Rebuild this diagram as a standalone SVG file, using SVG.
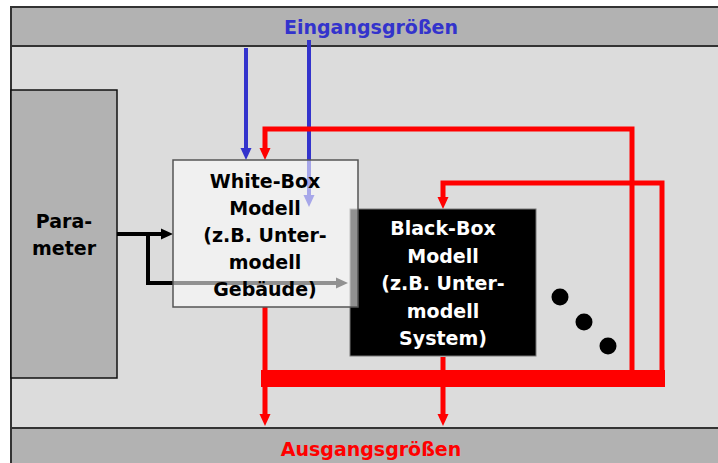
<svg xmlns="http://www.w3.org/2000/svg" width="718" height="463" viewBox="0 0 718 463">
<style>
.t{font-family:"DejaVu Sans","Liberation Sans",sans-serif;font-weight:bold;font-size:19px;text-anchor:middle}
.red{stroke:#ff0000;stroke-width:5;fill:none}
.blue{stroke:#3333cc;stroke-width:4;fill:none}
.blk{stroke:#000;stroke-width:4;fill:none}
</style>
<defs>
<marker id="ar" markerUnits="userSpaceOnUse" markerWidth="12" markerHeight="12" refX="0" refY="6" orient="auto"><path d="M0,0.5 L12,6 L0,11.5 z" fill="#ff0000"/></marker>
<marker id="ab" markerUnits="userSpaceOnUse" markerWidth="12" markerHeight="12" refX="0" refY="6" orient="auto"><path d="M0,0.5 L12,6 L0,11.5 z" fill="#3333cc"/></marker>
<marker id="ak" markerUnits="userSpaceOnUse" markerWidth="12" markerHeight="12" refX="0" refY="6" orient="auto"><path d="M0,0.5 L12,6 L0,11.5 z" fill="#000"/></marker>
</defs>
<rect width="718" height="463" fill="#fff"/>
<g id="frame">
<rect x="11" y="46" width="720" height="382" fill="#dcdcdc" stroke="#333" stroke-width="2"/>
<rect x="11" y="7" width="720" height="39" fill="#b2b2b2" stroke="#333" stroke-width="2"/>
<rect x="11" y="428" width="720" height="45" fill="#b2b2b2" stroke="#333" stroke-width="2"/>
<text class="t" x="371" y="34" fill="#3333cc">Eingangsgrößen</text>
<text class="t" x="371" y="456" fill="#ff0000">Ausgangsgrößen</text>
</g>
<g id="parameter">
<rect x="11" y="90" width="106" height="288" fill="#b2b2b2" stroke="#111" stroke-width="1.5"/>
<text class="t" x="64" y="228">Para-</text>
<text class="t" x="64" y="255">meter</text>
</g>
<g id="connectors">
<path class="blue" d="M246,48 V148" marker-end="url(#ab)"/>
<path class="blue" d="M309,40 V195" marker-end="url(#ab)"/>
<path class="blk" d="M117,234 H161" marker-end="url(#ak)"/>
<path class="blk" d="M148,234 V283 H336" marker-end="url(#ak)"/>
<path class="red" d="M632,372 V129 H265 V148" marker-end="url(#ar)"/>
<path class="red" d="M662,372 V183 H443 V197" marker-end="url(#ar)"/>
<rect x="261" y="370" width="404" height="17" fill="#ff0000"/>
<path class="red" d="M265,307 V414" marker-end="url(#ar)"/>
<path class="red" d="M443,357 V414" marker-end="url(#ar)"/>
</g>
<g id="blackbox">
<rect x="350" y="209" width="186" height="147" fill="#000" stroke="#777" stroke-width="1"/>
<g class="t" fill="#fff">
<text x="443" y="235">Black-Box</text>
<text x="443" y="263">Modell</text>
<text x="443" y="290">(z.B. Unter-</text>
<text x="443" y="318">modell</text>
<text x="443" y="345">System)</text>
</g>
</g>
<g id="whitebox">
<rect x="173" y="160" width="185" height="147" fill="#fff" fill-opacity="0.57" stroke="#555" stroke-width="1.5"/>
<g class="t" fill="#000">
<text x="265" y="188">White-Box</text>
<text x="265" y="215">Modell</text>
<text x="265" y="242">(z.B. Unter-</text>
<text x="265" y="269">modell</text>
<text x="265" y="296">Gebäude)</text>
</g>
</g>
<g id="dots" fill="#000">
<circle cx="560" cy="297" r="8.5"/>
<circle cx="584" cy="322" r="8.5"/>
<circle cx="608" cy="346" r="8.5"/>
</g>
</svg>
